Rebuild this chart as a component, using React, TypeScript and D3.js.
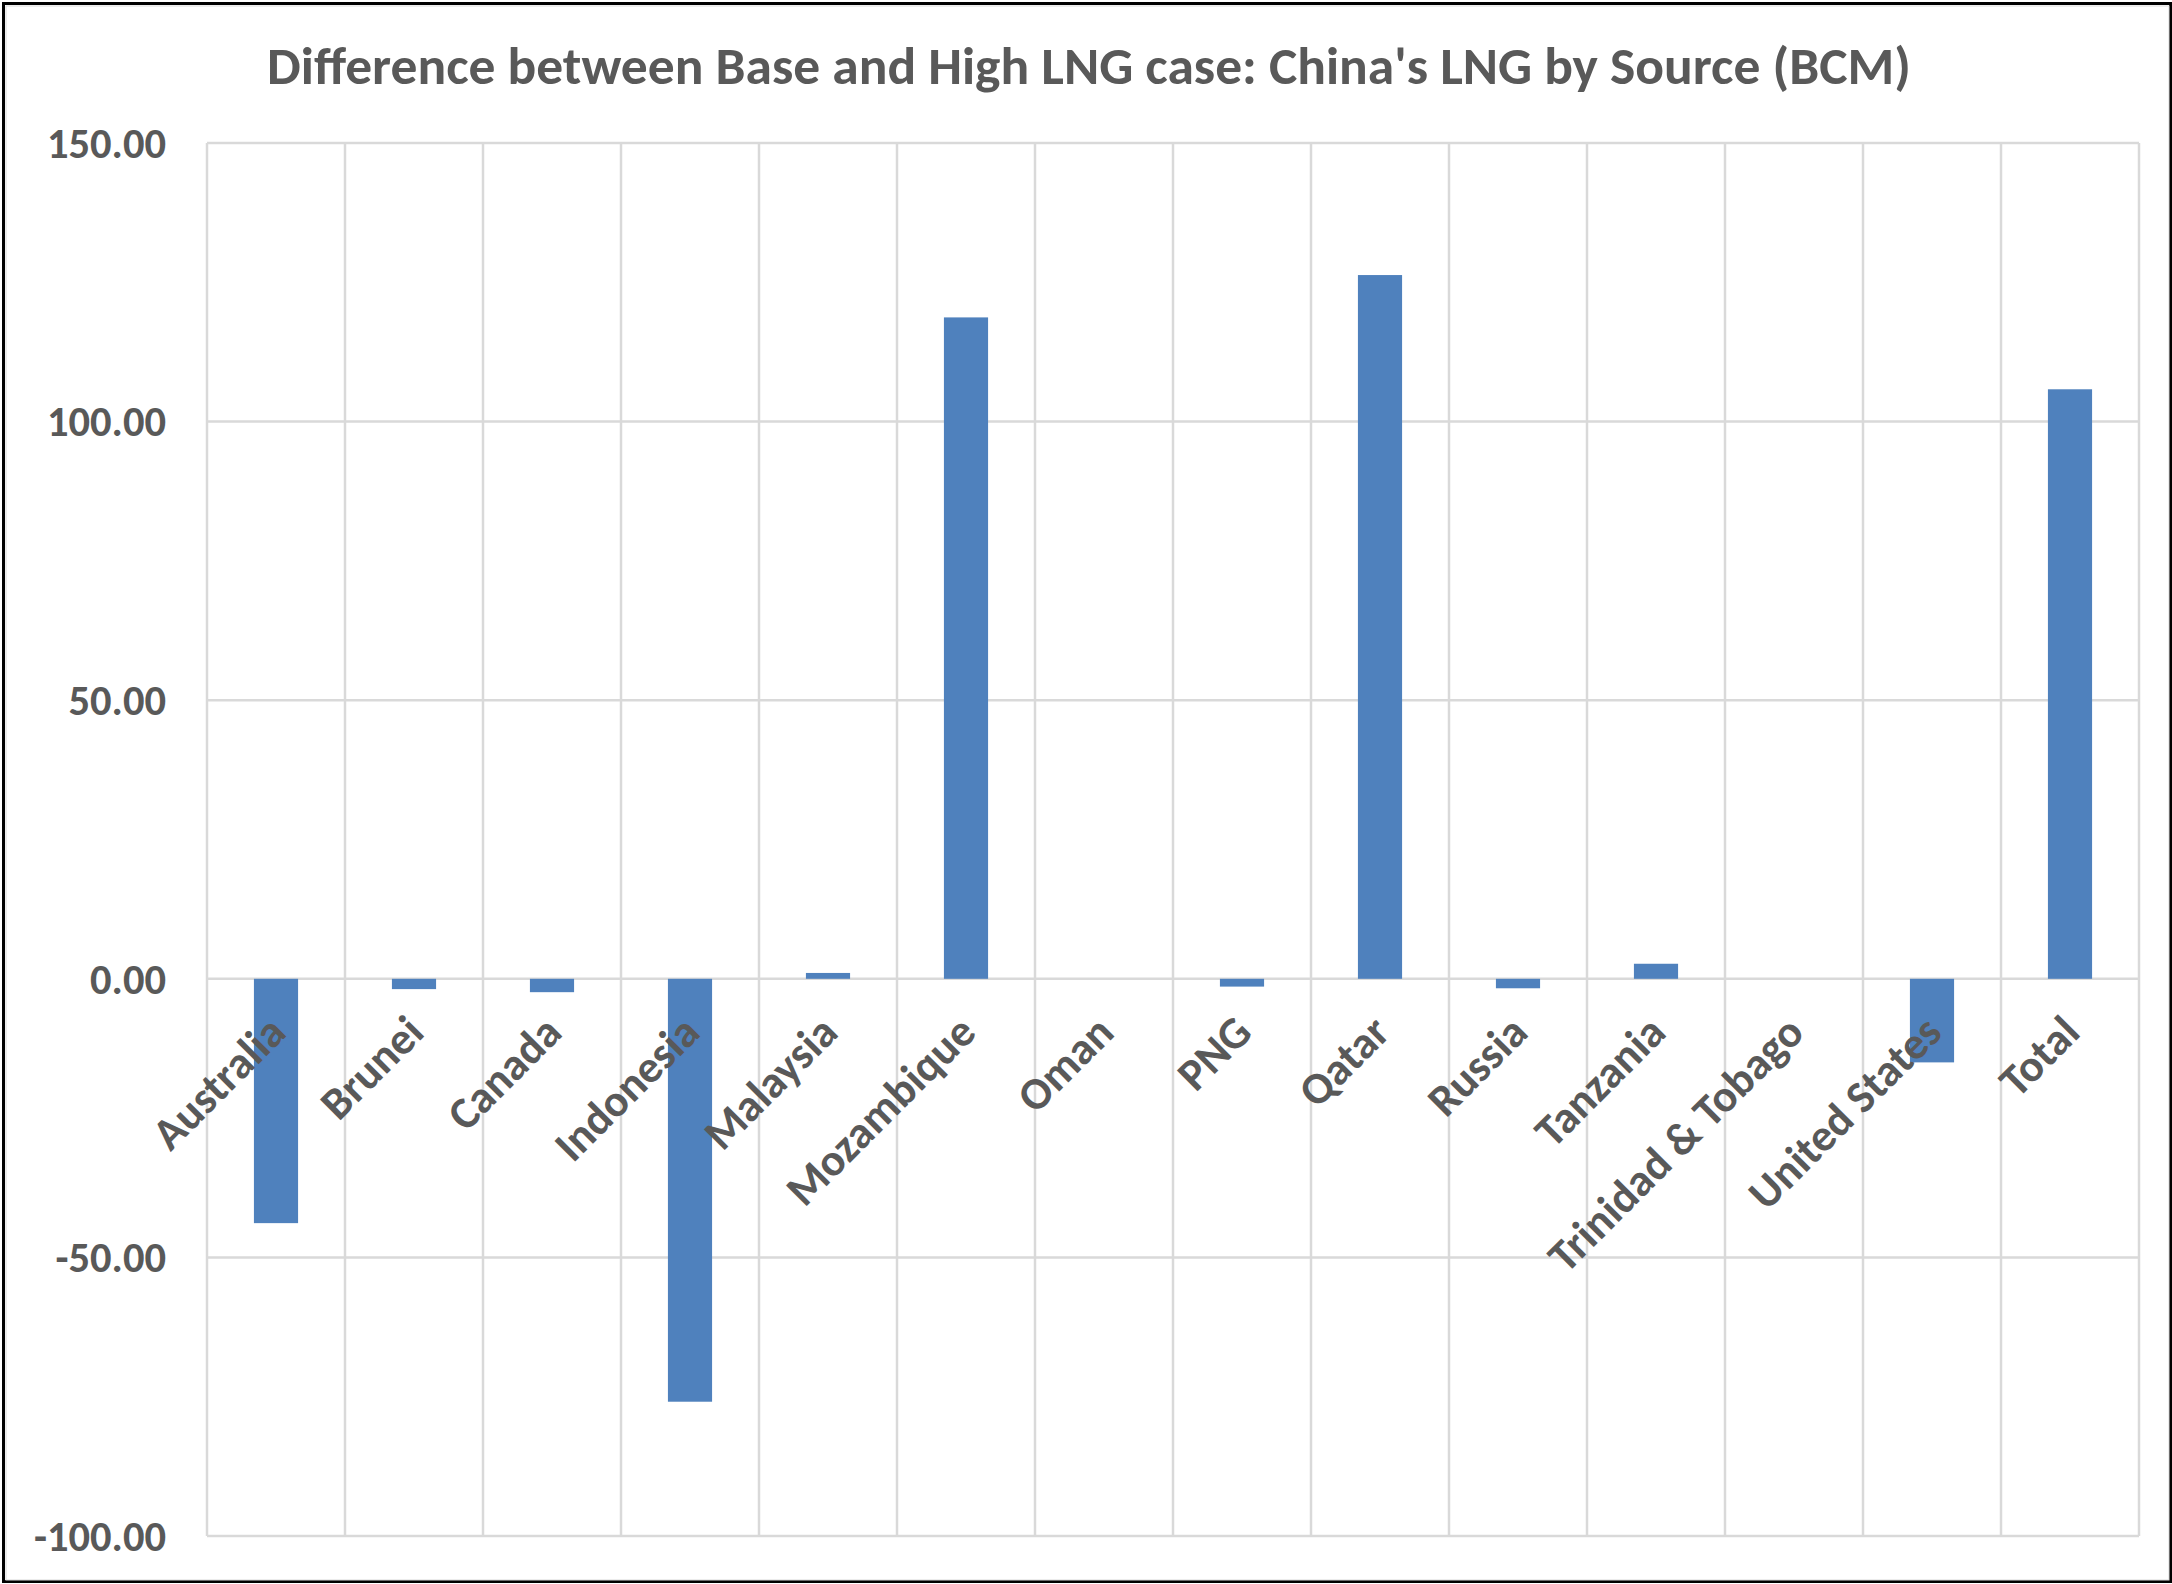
import React from "react";
import * as d3 from "d3";

const categories = [
  "Australia",
  "Brunei",
  "Canada",
  "Indonesia",
  "Malaysia",
  "Mozambique",
  "Oman",
  "PNG",
  "Qatar",
  "Russia",
  "Tanzania",
  "Trinidad & Tobago",
  "United States",
  "Total",
];

const values = [-43.85, -1.85, -2.4, -75.9, 1.05, 118.7, 0, -1.4, 126.3, -1.7, 2.7, 0, -15.0, 105.8];

const yTicks = [-100, -50, 0, 50, 100, 150];

const title = "Difference between Base and High LNG case: China's LNG by Source (BCM)";

const W = 2172;
const H = 1584;
const plot = { left: 207, right: 2139, top: 143, bottom: 1536 };
const FONT = "Calibri, Carlito, Lato, sans-serif";
const TEXT = "#595959";
const GRID = "#d9d9d9";
const BAR = "#4f81bd";

export default function App() {
  const x = d3
    .scaleBand<string>()
    .domain(categories)
    .range([plot.left, plot.right])
    .paddingInner(0)
    .paddingOuter(0);
  const y = d3.scaleLinear().domain([-100, 150]).range([plot.bottom, plot.top]);
  const bw = x.bandwidth();
  const barW = bw * 0.32;
  const zero = y(0);

  return (
    <div style={{ position: "absolute", left: 0, top: 0 }}>
      <svg width={W} height={H} style={{ display: "block" }}>
        <rect x={0} y={0} width={W} height={H} fill="#ffffff" />
        <rect x={3.5} y={3.5} width={W - 5} height={H - 6} fill="none" stroke="#000" strokeWidth={3} />
        <rect x={6} y={6} width={W - 9} height={H - 10} fill="none" stroke="#d9d9d9" strokeWidth={1} />

        <text
          x={1089}
          y={84}
          textAnchor="middle"
          fontFamily={FONT}
          fontWeight={700}
          fontSize={53.5}
          fill={TEXT}
        >
          {title}
        </text>

        {/* horizontal gridlines */}
        {yTicks.map((t) => (
          <line
            key={"h" + t}
            x1={plot.left}
            x2={plot.right}
            y1={y(t)}
            y2={y(t)}
            stroke={GRID}
            strokeWidth={2.5}
          />
        ))}
        {/* vertical gridlines at category boundaries */}
        {d3.range(categories.length + 1).map((i) => {
          const xv = plot.left + i * bw;
          return (
            <line
              key={"v" + i}
              x1={xv}
              x2={xv}
              y1={plot.top}
              y2={plot.bottom}
              stroke={GRID}
              strokeWidth={2.5}
            />
          );
        })}

        {/* y tick labels */}
        {yTicks.map((t) => (
          <text
            key={"yl" + t}
            x={166}
            y={y(t)}
            dy="0.35em"
            textAnchor="end"
            fontFamily={FONT}
            fontWeight={700}
            fontSize={42.5}
            fill={TEXT}
          >
            {t.toFixed(2)}
          </text>
        ))}

        {/* bars */}
        {categories.map((c, i) => {
          const v = values[i];
          if (v === 0) return null;
          const cx = (x(c) as number) + bw / 2;
          const y0 = Math.min(y(v), zero);
          const h = Math.abs(y(v) - zero);
          return <rect key={"b" + c} x={cx - barW / 2} y={y0} width={barW} height={h} fill={BAR} />;
        })}

        {/* category labels */}
        {categories.map((c) => {
          const cx = (x(c) as number) + bw / 2;
          const ax = cx + 12;
          const ay = zero + 56;
          return (
            <text
              key={"xl" + c}
              x={ax}
              y={ay}
              transform={`rotate(-45 ${ax} ${ay})`}
              textAnchor="end"
              fontFamily={FONT}
              fontWeight={700}
              fontSize={45}
              fill={TEXT}
            >
              {c}
            </text>
          );
        })}
      </svg>
    </div>
  );
}
